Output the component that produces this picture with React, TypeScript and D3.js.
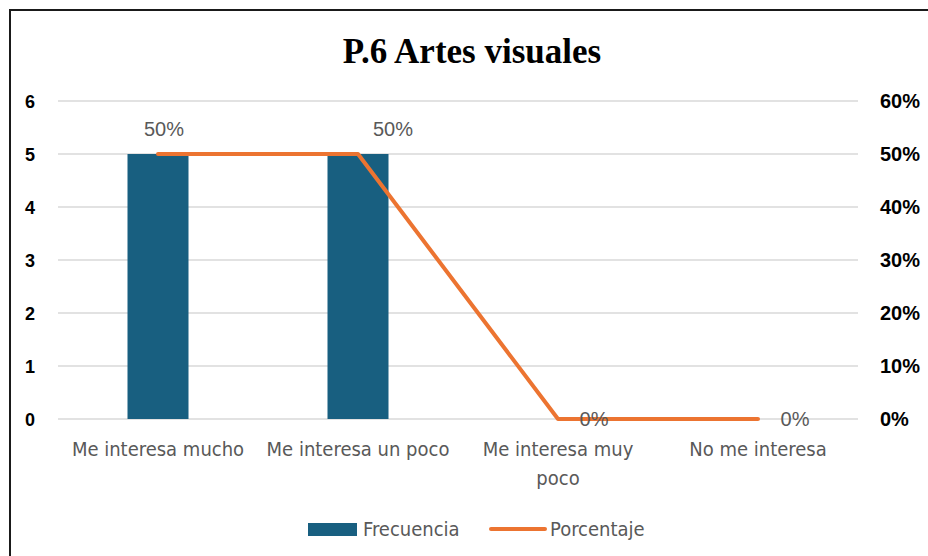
import React from "react";
import * as d3 from "d3";

const categories = ["Me interesa mucho", "Me interesa un poco", "Me interesa muy poco", "No me interesa"];
const categoryLines = [["Me interesa mucho"], ["Me interesa un poco"], ["Me interesa muy", "poco"], ["No me interesa"]];
const frecuencia = [5, 5, 0, 0];
const porcentaje = [0.5, 0.5, 0, 0];
const leftTicks = [0, 1, 2, 3, 4, 5, 6];
const rightTicks = [0, 0.1, 0.2, 0.3, 0.4, 0.5, 0.6];
const labelDx = [6, 35, 36, 37];
const labelDy = [-25, -25, 0, 0];

const W = 928, H = 556;
const M = { left: 58, right: 858, top: 101, bottom: 419 };
const narrow = "'Liberation Sans Narrow', 'DejaVu Sans Condensed', 'Liberation Sans', sans-serif";

export default function App() {
  const x = d3.scaleBand<string>().domain(categories).range([M.left, M.right]);
  const yL = d3.scaleLinear().domain([0, 6]).range([M.bottom, M.top]);
  const yR = d3.scaleLinear().domain([0, 0.6]).range([M.bottom, M.top]);
  const barW = 61;
  const cx = (i: number) => (x(categories[i]) as number) + x.bandwidth() / 2;
  const line = d3.line<number>().x((_, i) => cx(i)).y((d) => yR(d));
  const pct = d3.format(".0%");

  return (
    <svg width={W} height={H} style={{ position: "absolute", left: 0, top: 0, background: "#fff" }}>
      <rect x={0} y={0} width={W} height={H} fill="#fff" />
      <rect x={10} y={10} width={W + 20} height={H + 20} fill="none" stroke="#1a1a1a" strokeWidth={2} />
      <text x={472} y={63} textAnchor="middle" fontFamily="'Liberation Serif', 'Times New Roman', serif" fontWeight="bold" fontSize={35} fill="#000">
        P.6 Artes visuales
      </text>
      {leftTicks.map((t) => (
        <g key={t}>
          <line x1={M.left} x2={M.right} y1={yL(t)} y2={yL(t)} stroke="#d9d9d9" strokeWidth={1.3} />
          <text x={30} y={yL(t) + 6.5} textAnchor="middle" fontFamily="'Liberation Sans', Arial, sans-serif" fontWeight="bold" fontSize={18} fill="#000">
            {t}
          </text>
        </g>
      ))}
      {rightTicks.map((t) => (
        <text key={t} x={880} y={yR(t) + 7} textAnchor="start" fontFamily="'Liberation Sans', Arial, sans-serif" fontWeight="bold" fontSize={20} fill="#000">
          {pct(t)}
        </text>
      ))}
      {frecuencia.map((v, i) => (
        <rect key={i} x={cx(i) - barW / 2} y={yL(v)} width={barW} height={yL(0) - yL(v)} fill="#185F80" />
      ))}
      <path d={line(porcentaje) as string} fill="none" stroke="#EC7431" strokeWidth={4} strokeLinejoin="round" strokeLinecap="round" />
      {porcentaje.map((v, i) => (
        <text key={i} x={cx(i) + labelDx[i]} y={yR(v) + labelDy[i] + 7} textAnchor="middle" fontFamily="'Liberation Sans', Arial, sans-serif" fontSize={20} fill="#595959">
          {pct(v)}
        </text>
      ))}
      {categoryLines.map((ls, i) => (
        <text key={i} textAnchor="middle" fontFamily={narrow} fontSize={20} fill="#595959">
          {ls.map((l, j) => (
            <tspan key={j} x={cx(i)} y={456 + j * 29}>{l}</tspan>
          ))}
        </text>
      ))}
      <g>
        <rect x={308} y={523} width={49} height={13} fill="#185F80" />
        <text x={363} y={536} fontFamily={narrow} fontSize={20} fill="#595959">Frecuencia</text>
        <line x1={491} x2={545} y1={529} y2={529} stroke="#EC7431" strokeWidth={4} strokeLinecap="round" />
        <text x={550} y={536} fontFamily={narrow} fontSize={20} fill="#595959">Porcentaje</text>
      </g>
    </svg>
  );
}
